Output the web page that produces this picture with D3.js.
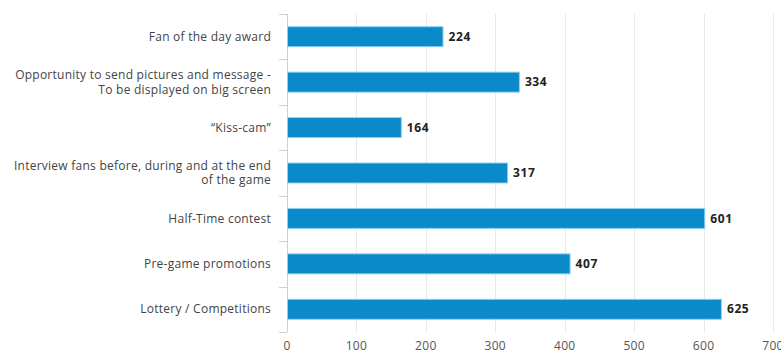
<!DOCTYPE html>
<html>
<head>
<meta charset="utf-8">
<script src="https://cdn.jsdelivr.net/npm/d3@7"></script>
<style>
  html, body { margin: 0; padding: 0; background: #fff; }
  svg { display: block; font-family: "Open Sans", "DejaVu Sans", sans-serif; }
</style>
</head>
<body>
<svg id="chart" width="781" height="354"></svg>
<script>
// Fan engagement activities (line breaks in labels marked with \n)
const categories = [
  "Fan of the day award",
  "Opportunity to send pictures and message -\nTo be displayed on big screen",
  "\u201cKiss-cam\u201d",
  "Interview fans before, during and at the end\nof the game",
  "Half-Time contest",
  "Pre-game promotions",
  "Lottery / Competitions"
];
const values = [224, 334, 164, 317, 601, 407, 625];
const xTicks = [0, 100, 200, 300, 400, 500, 600, 700];

const svg = d3.select("#chart");
const plotTop = 14, plotBottom = 332;
const plotLeft = 287, plotRight = 773;

const x = d3.scaleLinear().domain([0, 700]).range([plotLeft, plotRight]);
const y = d3.scaleBand()
  .domain(categories)
  .range([plotTop, plotBottom])
  .paddingInner(0.56)
  .paddingOuter(0.28);

// vertical grid lines
svg.append("g")
  .selectAll("line")
  .data(xTicks.slice(1))
  .join("line")
  .attr("x1", d => Math.round(x(d)) + 0.5).attr("x2", d => Math.round(x(d)) + 0.5)
  .attr("y1", plotTop).attr("y2", plotBottom)
  .attr("stroke", "#e8e8e8")
  .attr("stroke-width", 1);

// x tick labels
svg.append("g")
  .selectAll("text")
  .data(xTicks)
  .join("text")
  .attr("x", d => x(d))
  .attr("y", 350)
  .attr("text-anchor", "middle")
  .attr("font-size", 12)
  .attr("letter-spacing", 0.3)
  .attr("fill", "#555")
  .text(d => d);

// category axis line with ticks on band boundaries
const step = y.step();
const boundaries = d3.range(categories.length + 1).map(i => plotTop + i * step);
const axisG = svg.append("g");
axisG.append("line")
  .attr("x1", x(0) + 0.5).attr("x2", x(0) + 0.5)
  .attr("y1", plotTop).attr("y2", plotBottom)
  .attr("stroke", "#d0d0d0");
axisG.selectAll("line.tick")
  .data(boundaries)
  .join("line")
  .attr("class", "tick")
  .attr("x1", x(0) - 8).attr("x2", x(0))
  .attr("y1", d => Math.round(d) + 0.5).attr("y2", d => Math.round(d) + 0.5)
  .attr("stroke", "#d0d0d0");

// category labels
const labelG = svg.append("g");
categories.forEach(c => {
  const lines = c.split("\n");
  const cy = y(c) + y.bandwidth() / 2;
  const lh = 14.5;
  const t = labelG.append("text")
    .attr("text-anchor", "end")
    .attr("font-size", 12)
    .attr("letter-spacing", 0.25)
    .attr("fill", "#444");
  lines.forEach((ln, i) => {
    t.append("tspan")
      .attr("x", 271)
      .attr("y", cy + (i - (lines.length - 1) / 2) * lh)
      .attr("dy", "0.35em")
      .text(ln);
  });
});

// bars
svg.append("g")
  .selectAll("rect")
  .data(values)
  .join("rect")
  .attr("x", x(0) + 0.5)
  .attr("y", (d, i) => y(categories[i]))
  .attr("width", d => x(d) - x(0))
  .attr("height", y.bandwidth())
  .attr("fill", "#0a8ac9")
  .attr("stroke", "#8fd0ef")
  .attr("stroke-width", 1);

// value labels
svg.append("g")
  .selectAll("text")
  .data(values)
  .join("text")
  .attr("x", d => x(d) + 6)
  .attr("y", (d, i) => y(categories[i]) + y.bandwidth() / 2)
  .attr("dy", "0.35em")
  .attr("font-size", 12)
  .attr("font-weight", "bold")
  .attr("letter-spacing", 0.6)
  .attr("fill", "#222")
  .text(d => d);
</script>
</body>
</html>
